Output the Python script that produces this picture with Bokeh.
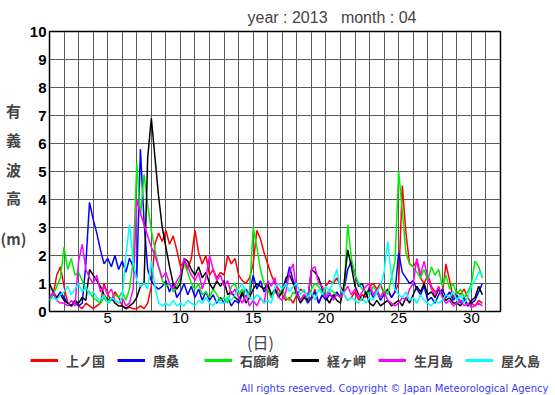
from bokeh.plotting import figure
from bokeh.models import FixedTicker, Range1d, Legend, LegendItem, Label
from bokeh.layouts import column, row
from bokeh.embed import file_html
from bokeh.resources import INLINE

# ---- data (significant wave height, m), 6-hourly samples, April 2013 ----
days = list(range(1, 31))
steps = [0.0, 0.25, 0.5, 0.75]
t = [d + s for d in days for s in steps]

kaminokuni = [
    0.4, 0.6, 1.3, 1.6,  0.9, 0.3, 0.2, 0.3,  0.2, 0.1, 0.3, 0.2,  0.1, 0.2, 0.3, 1.0,
    0.6, 0.4, 0.7, 0.5,  0.2, 0.1, 0.15, 0.1, 0.1, 0.2, 0.1, 0.3,  0.9, 2.4, 2.8, 2.5,
    2.9, 2.4, 2.7, 2.2,  1.6, 1.8, 1.5, 1.9,  2.9, 2.1, 1.7, 2.0,  1.3, 1.5, 1.2, 1.4,
    1.3, 2.0, 1.7, 1.9,  1.3, 1.1, 1.0, 1.2,  1.7, 2.9, 2.6, 2.1,  1.7, 1.3, 1.0, 0.8,
    0.6, 0.4, 0.5, 0.3,  0.6, 0.8, 0.7, 0.6,  0.4, 0.8, 0.3, 0.6,  0.9, 1.1, 1.0, 1.2,
    0.9, 0.6, 0.4, 0.5,  0.7, 0.4, 0.6, 0.5,  0.9, 1.0, 0.8, 1.0,  0.6, 0.8, 0.5, 0.7,
    1.0, 4.5, 2.8, 1.7,  1.6, 1.8, 1.2, 1.0,  1.3, 0.9, 0.7, 0.8,  0.6, 1.7, 1.1, 0.5,
    0.7, 0.6, 0.8, 0.5,  0.3, 0.2, 0.4, 0.3,
]
karakuwa = [
    0.5, 0.6, 0.5, 0.7,  0.5, 0.3, 0.2, 0.4,  0.2, 0.3, 1.7, 3.9,  3.3, 2.8, 2.2, 1.7,
    1.9, 1.6, 2.0, 1.5,  1.8, 1.4, 1.9, 1.6,  1.2, 5.8, 3.2, 1.5,  1.1, 0.9, 0.8, 0.9,
    1.1, 0.7, 1.0, 0.5,  0.7, 1.0, 0.6, 0.9,  0.5, 0.8, 0.4, 0.7,  0.4, 0.6, 0.3, 0.5,
    0.3, 0.5, 0.2, 0.4,  0.3, 0.6, 0.8, 0.6,  1.3, 0.8, 1.1, 0.7,  0.9, 0.5, 0.8, 0.6,
    0.7, 1.0, 1.6, 1.1,  0.7, 0.4, 0.6, 0.3,  0.5, 0.7, 0.3, 0.6,  0.4, 0.6, 0.5, 0.7,
    0.5, 0.8, 1.5, 1.8,  1.3, 0.9, 1.0, 0.6,  0.8, 0.5, 0.7, 0.4,  0.6, 0.8, 0.5, 0.7,
    2.1, 1.4, 1.2, 1.0,  1.1, 0.8, 0.6, 0.9,  0.4, 0.5, 0.3, 0.6,  0.8, 0.5, 0.7, 0.4,
    0.6, 0.3, 0.5, 0.2,  0.3, 0.4, 0.7, 1.0,
]
irozaki = [
    0.4, 0.6, 0.9, 1.2,  2.3, 1.5, 1.9, 1.3,  1.4, 1.1, 0.8, 0.7,  0.5, 0.4, 0.3, 0.5,
    0.3, 0.4, 0.6, 0.5,  0.7, 0.4, 0.8, 1.8,  5.3, 3.4, 4.9, 3.8,  2.9, 2.2, 1.6, 1.1,
    0.9, 1.0, 0.7, 0.9,  1.2, 1.7, 1.4, 1.0,  0.8, 1.0, 0.6, 0.7,  0.5, 0.8, 0.6, 0.4,
    0.5, 0.3, 0.9, 1.0,  0.6, 0.8, 0.5, 0.7,  3.0, 2.3, 1.5, 1.0,  0.8, 0.5, 0.7, 0.6,
    0.8, 0.5, 0.4, 0.7,  0.6, 0.4, 0.6, 0.5,  0.8, 1.0, 0.9, 0.7,  0.6, 0.8, 0.7, 0.6,
    0.5, 0.8, 3.1, 1.9,  1.3, 1.0, 0.8, 0.7,  0.6, 0.9, 0.7, 0.5,  0.8, 0.6, 1.2, 1.8,
    5.0, 3.6, 2.1, 1.7,  1.6, 1.4, 1.2, 1.5,  1.1, 1.6, 1.3, 1.5,  0.9, 1.3, 0.8, 1.0,
    0.6, 0.8, 0.5, 0.7,  1.0, 1.8, 1.6, 1.2,
]
kyogamisaki = [
    1.0, 0.7, 0.5, 0.6,  0.4, 0.3, 0.2, 0.4,  0.3, 0.5, 0.4, 1.5,  1.3, 1.1, 0.9, 0.6,
    0.4, 0.5, 0.3, 0.2,  0.2, 0.1, 0.2, 0.3,  0.5, 0.9, 1.0, 5.5,  6.9, 5.5, 4.1, 3.0,
    2.3, 1.6, 1.0, 0.8,  1.0, 1.9, 1.8, 1.5,  1.3, 1.6, 1.2, 1.4,  1.0, 0.8, 1.1, 0.9,
    1.1, 0.6, 0.7, 0.5,  0.4, 0.7, 0.3, 0.5,  0.8, 1.0, 0.9, 0.8,  1.0, 0.6, 0.8, 0.5,
    0.7, 1.2, 1.3, 1.0,  0.6, 0.3, 0.5, 0.4,  1.5, 1.4, 1.2, 0.8,  0.5, 0.3, 0.6, 0.4,
    0.3, 1.0, 2.2, 1.6,  0.9, 0.6, 0.4, 0.7,  0.3, 0.2, 0.4, 0.2,  0.3, 0.4, 0.2, 0.3,
    0.4, 0.2, 0.5, 0.3,  0.6, 0.9, 0.7, 1.0,  0.6, 0.7, 0.5, 0.8,  0.6, 0.4, 0.5, 0.3,
    0.3, 0.2, 0.4, 0.2,  0.4, 0.5, 0.9, 0.6,
]
ikitsukishima = [
    0.5, 0.7, 0.4, 0.3,  0.3, 0.2, 0.4, 0.2,  1.8, 2.4, 1.5, 1.2,  1.0, 1.3, 0.7, 0.9,
    0.6, 0.8, 0.4, 0.3,  0.5, 0.2, 0.3, 0.8,  4.0, 3.5, 3.1, 2.7,  2.3, 2.0, 1.6, 1.2,
    1.4, 1.0, 0.8, 1.1,  1.3, 1.9, 1.6, 1.3,  1.1, 1.4, 0.8, 1.2,  2.0, 1.5, 1.1, 1.3,
    0.9, 1.1, 0.6, 0.8,  0.5, 0.3, 0.6, 0.2,  0.4, 0.2, 0.5, 0.3,  1.1, 0.9, 1.2, 0.5,
    0.4, 0.7, 1.4, 1.7,  0.6, 0.4, 0.6, 0.5,  1.5, 1.6, 1.0, 0.9,  0.5, 0.7, 0.4, 0.6,
    0.5, 0.7, 0.9, 0.6,  0.8, 0.5, 0.7, 0.9,  1.0, 0.6, 0.8, 0.5,  0.7, 0.4, 0.3, 0.2,
    0.3, 0.5, 0.4, 0.8,  1.0, 1.9, 1.3, 1.8,  1.2, 0.8, 0.6, 0.9,  0.5, 0.3, 0.4, 0.2,
    0.3, 0.4, 0.2, 0.3,  0.15, 0.2, 0.3, 0.2,
]
yakushima = [
    0.4, 0.5, 0.4, 0.6,  0.7, 0.9, 0.6, 0.8,  1.0, 0.7, 0.9, 0.6,  0.7, 0.5, 0.4, 0.6,
    0.3, 0.5, 0.4, 0.3,  0.5, 2.0, 3.1, 1.8,  1.1, 0.9, 1.0, 0.8,  1.8, 0.9, 0.3, 0.2,
    0.3, 0.2, 0.4, 0.2,  0.3, 0.2, 0.4, 0.3,  0.2, 0.4, 0.3, 0.5,  0.3, 0.2, 0.4, 0.3,
    0.3, 0.5, 0.4, 0.6,  0.8, 1.0, 0.7, 0.5,  0.4, 0.6, 0.5, 0.3,  0.4, 0.3, 0.9, 1.0,
    0.8, 1.0, 0.7, 0.9,  1.0, 0.6, 0.8, 0.5,  0.7, 0.4, 0.8, 0.6,  0.9, 0.7, 1.1, 1.5,
    0.8, 0.6, 0.4, 0.5,  0.4, 0.3, 0.5, 0.3,  0.5, 0.4, 0.7, 0.9,  1.4, 2.5, 1.3, 0.8,
    0.6, 0.5, 0.7, 0.4,  0.5, 0.3, 0.6, 0.4,  0.3, 0.2, 0.4, 0.3,  0.4, 0.6, 0.5, 0.7,
    0.4, 0.6, 0.3, 0.5,  0.9, 1.1, 1.4, 1.3,
]

station_names = ["上ノ国", "唐桑", "石廊崎", "経ヶ岬", "生月島", "屋久島"]
station_colors = ["#ff0000", "#0000ff", "#00ee00", "#000000", "#ff00ff", "#00ffff"]
series = [kaminokuni, karakuwa, irozaki, kyogamisaki, ikitsukishima, yakushima]

x_ticks = [5, 10, 15, 20, 25, 30]
y_ticks = list(range(0, 11))
x_grid = list(range(1, 33))

title_text = "year : 2013\u00a0\u00a0\u00a0month : 04"
y_label_chars = ["有", "義", "波", "高", "(m)"]
x_label = "(日)"
copyright_text = "All rights reserved. Copyright \u00a9 Japan Meteorological Agency"

# ---- page geometry (pixels) ----
PAGE_W, PAGE_H = 555, 395
LEFT_W = 26                # strip holding the stacked y caption
TOP_H = 330                # chart part height
FRAME_L, FRAME_T, FRAME_R, FRAME_B = 46, 30, 500, 311


def blank_fig(w, h, x_range, y_range):
    f = figure(width=w, height=h, output_backend="svg", toolbar_location=None,
               x_axis_location=None, y_axis_location=None,
               x_range=x_range, y_range=y_range,
               min_border=0, min_border_left=0, min_border_right=0,
               min_border_top=0, min_border_bottom=0)
    f.outline_line_color = None
    f.xgrid.visible = False
    f.ygrid.visible = False
    f.background_fill_color = "white"
    f.border_fill_color = "white"
    return f


# ---- left strip: stacked y caption (its frame lines up with the chart frame) ----
left = blank_fig(LEFT_W, TOP_H, Range1d(0, LEFT_W), Range1d(0, 10))


def page_y_to_value(py):
    return (FRAME_B - py) * 10.0 / (FRAME_B - FRAME_T)


for ch, py in zip(y_label_chars, [109, 138, 168, 197, 238]):
    left.add_layout(Label(x=13, y=page_y_to_value(py), text=ch, text_font="Noto Sans CJK JP",
                          text_font_size="15px", text_font_style="bold",
                          text_align="center", text_baseline="middle"))

# ---- main chart ----
MW = PAGE_W - LEFT_W
p = figure(width=MW, height=TOP_H, output_backend="svg", toolbar_location=None,
           x_range=Range1d(1, 32), y_range=Range1d(0, 10),
           min_border_left=FRAME_L - LEFT_W, min_border_top=FRAME_T,
           min_border_right=PAGE_W - FRAME_R, min_border_bottom=TOP_H - FRAME_B,
           title=title_text)
p.background_fill_color = "white"
p.border_fill_color = "white"
p.outline_line_color = "black"
p.outline_line_width = 1.5

p.title.align = "left"
p.title.offset = 198
p.title.text_font = "Liberation Sans"
p.title.text_font_size = "16px"
p.title.text_font_style = "normal"
p.title.standoff = 12

p.xgrid.ticker = FixedTicker(ticks=x_grid)
p.ygrid.ticker = FixedTicker(ticks=y_ticks)
for g in (p.xgrid, p.ygrid):
    g.grid_line_color = "#5a5a5a"
    g.grid_line_width = 1
    g.grid_line_alpha = 1.0

p.xaxis.ticker = FixedTicker(ticks=x_ticks)
p.yaxis.ticker = FixedTicker(ticks=y_ticks)
for ax in (p.xaxis, p.yaxis):
    ax.axis_line_color = None
    ax.major_tick_line_color = None
    ax.minor_tick_line_color = None
    ax.major_tick_out = 0
    ax.major_tick_in = 0
    ax.major_label_text_font = "Liberation Sans"
    ax.major_label_text_font_size = "15px"
    ax.major_label_text_color = "black"
p.yaxis.major_label_text_font_style = "bold"
p.yaxis.major_label_standoff = 3
p.xaxis.major_label_standoff = 1

for vals, c in zip(series, station_colors):
    p.line(t, vals, line_color=c, line_width=1.5)

# ---- bottom strip: x caption, legend, copyright ----
BH = PAGE_H - TOP_H
bottom = blank_fig(PAGE_W, BH, Range1d(0, PAGE_W), Range1d(BH, 0))
bottom.add_layout(Label(x=260, y=341 - TOP_H, text=x_label, text_font="Noto Sans CJK JP",
                        text_font_size="16px", text_align="center", text_baseline="middle"))
nan = float("nan")
items = []
for name, c in zip(station_names, station_colors):
    # swatch-only renderer (nothing plotted), so the legend line can be thicker
    r = bottom.line([nan, nan], [nan, nan], line_color=c, line_width=3)
    items.append(LegendItem(label=name, renderers=[r]))
legend = Legend(items=items, orientation="horizontal", location=(30, PAGE_H - 370))
legend.label_text_font = "Noto Sans CJK JP"
legend.label_text_font_size = "13px"
legend.label_text_font_style = "bold"
legend.glyph_width = 28
legend.glyph_height = 20
legend.label_standoff = 8
legend.label_width = 50
legend.label_height = 20
legend.spacing = 1
legend.padding = 0
legend.margin = 0
legend.border_line_color = None
legend.background_fill_alpha = 0
bottom.add_layout(legend)
bottom.add_layout(Label(x=548, y=388 - TOP_H, text=copyright_text, text_font="DejaVu Sans",
                        text_font_size="10px", text_color="#3a3aff", text_align="right",
                        text_baseline="middle"))

layout = column(row(left, p), bottom)
open("out.html", "w").write(file_html(layout, INLINE))
